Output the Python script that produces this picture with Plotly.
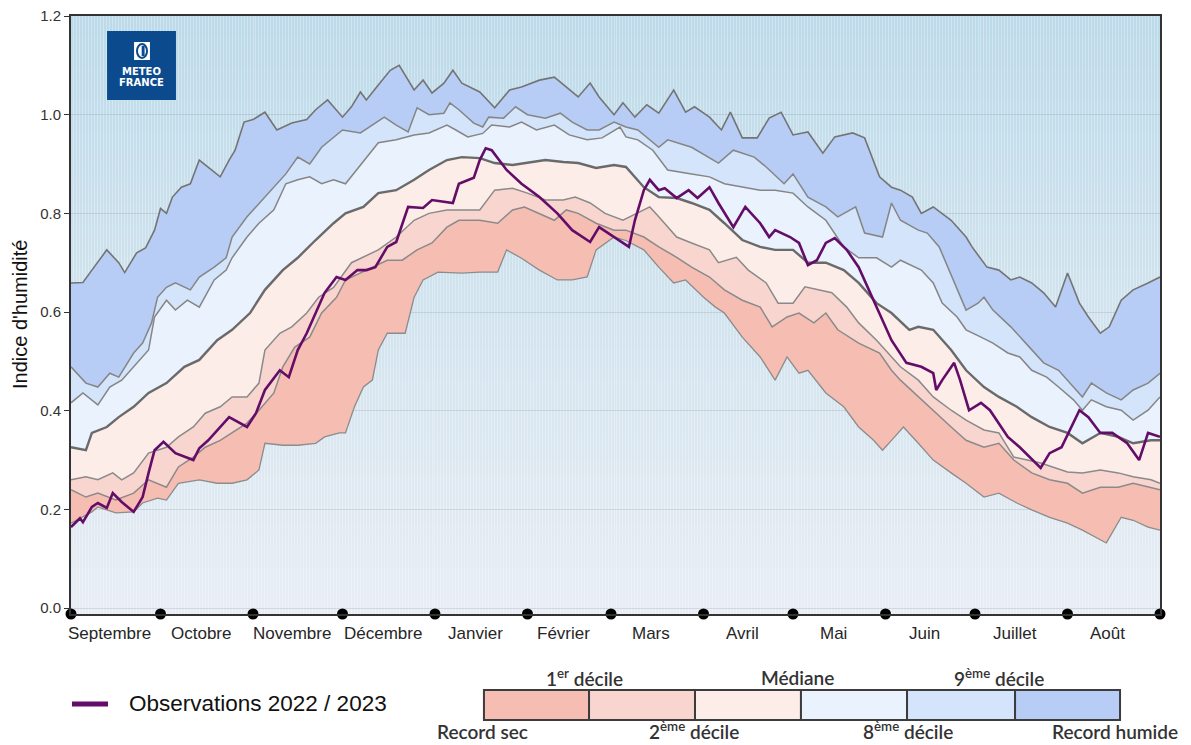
import base64
import struct
import zlib

import plotly.graph_objects as go

# Jour 0 = 1er septembre 2022, jour 365 = 31 août 2023
jours_record_sec = [0, 7, 9, 15, 21, 24, 29, 32, 36, 43, 49, 54, 59, 63, 65, 71, 76, 82, 85, 90,
                    92, 95, 98, 101, 103, 106, 112, 115, 118, 123, 131, 137, 143, 146, 151, 157,
                    163, 168, 173, 176, 182, 186, 192, 197, 202, 206, 212, 216, 219, 225, 231,
                    236, 240, 244, 247, 253, 259, 264, 269, 272, 275, 279, 284, 289, 295, 300,
                    306, 311, 317, 322, 328, 334, 339, 345, 347, 352, 356, 361, 365]
record_sec = [0.172, 0.195, 0.205, 0.193, 0.195, 0.213, 0.223, 0.219, 0.253, 0.26, 0.253, 0.253,
              0.26, 0.28, 0.334, 0.33, 0.33, 0.334, 0.347, 0.355, 0.355, 0.408, 0.448, 0.462,
              0.523, 0.557, 0.557, 0.63, 0.665, 0.681, 0.679, 0.681, 0.681, 0.726, 0.709, 0.685,
              0.665, 0.665, 0.671, 0.726, 0.752, 0.745, 0.726, 0.691, 0.659, 0.665, 0.63, 0.61,
              0.598, 0.549, 0.509, 0.462, 0.509, 0.476, 0.482, 0.436, 0.408, 0.367, 0.34, 0.32,
              0.34, 0.367, 0.334, 0.30, 0.274, 0.253, 0.225, 0.233, 0.213, 0.199, 0.184, 0.172,
              0.158, 0.138, 0.132, 0.184, 0.178, 0.164, 0.158]

jours_decile1 = [0, 5, 9, 15, 21, 26, 32, 36, 41, 45, 50, 54, 59, 63, 68, 71, 75, 80, 84, 89, 92,
                 99, 106, 111, 116, 121, 126, 130, 137, 143, 148, 152, 157, 162, 166, 170, 176,
                 182, 186, 192, 197, 203, 208, 214, 219, 225, 231, 235, 240, 244, 249, 253, 257,
                 264, 271, 275, 278, 284, 289, 295, 300, 306, 311, 316, 322, 328, 334, 339, 345,
                 351, 356, 362, 365]
decile1 = [0.24, 0.225, 0.233, 0.219, 0.233, 0.26, 0.245, 0.286, 0.306, 0.326, 0.34, 0.355, 0.375,
           0.401, 0.436, 0.489, 0.529, 0.549, 0.598, 0.63, 0.665, 0.685, 0.705, 0.705, 0.726,
           0.74, 0.772, 0.786, 0.786, 0.78, 0.807, 0.813, 0.80, 0.786, 0.807, 0.80, 0.78, 0.766,
           0.766, 0.752, 0.732, 0.711, 0.691, 0.671, 0.645, 0.624, 0.61, 0.57, 0.59, 0.598,
           0.578, 0.598, 0.564, 0.537, 0.517, 0.482, 0.462, 0.428, 0.401, 0.367, 0.34, 0.326,
           0.334, 0.30, 0.274, 0.26, 0.253, 0.233, 0.245, 0.245, 0.253, 0.245, 0.24]

jours_decile2 = [0, 5, 9, 14, 17, 21, 26, 32, 36, 41, 45, 50, 54, 59, 63, 65, 70, 74, 79, 83, 88,
                 94, 103, 109, 115, 120, 126, 131, 137, 142, 148, 153, 159, 165, 169, 174, 179,
                 185, 194, 197, 203, 208, 214, 217, 223, 227, 233, 237, 242, 246, 251, 255, 260,
                 264, 270, 275, 278, 284, 289, 295, 300, 306, 311, 316, 320, 325, 329, 334, 339,
                 345, 351, 356, 362, 365]
decile2 = [0.26, 0.266, 0.26, 0.274, 0.26, 0.274, 0.314, 0.326, 0.347, 0.367, 0.395, 0.408, 0.428,
           0.428, 0.456, 0.523, 0.557, 0.57, 0.598, 0.63, 0.65, 0.70, 0.726, 0.752, 0.786, 0.80,
           0.807, 0.807, 0.807, 0.847, 0.851, 0.841, 0.827, 0.827, 0.833, 0.821, 0.80, 0.786,
           0.813, 0.793, 0.752, 0.74, 0.726, 0.70, 0.711, 0.685, 0.659, 0.618, 0.618, 0.651,
           0.645, 0.639, 0.61, 0.578, 0.543, 0.509, 0.489, 0.462, 0.428, 0.401, 0.381, 0.361,
           0.355, 0.306, 0.30, 0.294, 0.286, 0.276, 0.274, 0.28, 0.274, 0.266, 0.26, 0.253]

jours_mediane = [0, 5, 7, 12, 16, 21, 26, 32, 38, 43, 49, 54, 60, 65, 71, 76, 82, 88, 92, 98, 103,
                 109, 115, 120, 126, 131, 137, 142, 148, 153, 159, 165, 170, 176, 182, 186, 192,
                 197, 203, 208, 214, 219, 225, 231, 236, 242, 247, 253, 259, 264, 270, 275, 281,
                 284, 289, 295, 300, 306, 311, 317, 322, 328, 334, 339, 345, 351, 356, 362, 365]
mediane = [0.326, 0.32, 0.355, 0.367, 0.387, 0.408, 0.436, 0.456, 0.489, 0.503, 0.543, 0.564,
           0.598, 0.645, 0.685, 0.71, 0.746, 0.78, 0.80, 0.813, 0.841, 0.847, 0.868, 0.888, 0.908,
           0.914, 0.912, 0.902, 0.898, 0.902, 0.908, 0.904, 0.902, 0.892, 0.898, 0.894, 0.853,
           0.833, 0.831, 0.821, 0.807, 0.78, 0.746, 0.732, 0.726, 0.726, 0.70, 0.70, 0.685, 0.659,
           0.618, 0.598, 0.564, 0.57, 0.564, 0.523, 0.482, 0.448, 0.428, 0.408, 0.387, 0.367,
           0.355, 0.334, 0.355, 0.347, 0.334, 0.34, 0.34]

jours_decile8 = [0, 4, 9, 13, 17, 22, 26, 28, 32, 35, 39, 43, 48, 52, 54, 59, 63, 68, 72, 76, 80,
                 84, 88, 92, 99, 103, 109, 115, 120, 126, 129, 133, 138, 141, 147, 151, 156, 162,
                 167, 173, 178, 184, 186, 190, 195, 200, 208, 214, 219, 225, 231, 236, 242, 247,
                 253, 259, 264, 270, 275, 278, 285, 289, 292, 297, 300, 305, 309, 314, 318, 322,
                 327, 331, 336, 339, 342, 347, 352, 356, 361, 365]
decile8 = [0.416, 0.436, 0.412, 0.448, 0.462, 0.497, 0.523, 0.59, 0.624, 0.604, 0.624, 0.61, 0.665,
           0.685, 0.71, 0.752, 0.78, 0.807, 0.86, 0.868, 0.874, 0.86, 0.868, 0.86, 0.914, 0.943,
           0.949, 0.959, 0.963, 0.979, 0.969, 0.955, 0.962, 0.979, 0.975, 0.985, 0.969, 0.979,
           0.959, 0.949, 0.953, 0.975, 0.955, 0.949, 0.928, 0.888, 0.88, 0.874, 0.86, 0.853,
           0.847, 0.847, 0.841, 0.813, 0.786, 0.732, 0.71, 0.71, 0.691, 0.705, 0.685, 0.659,
           0.618, 0.59, 0.564, 0.549, 0.537, 0.517, 0.509, 0.482, 0.468, 0.448, 0.422, 0.401,
           0.422, 0.408, 0.401, 0.381, 0.401, 0.428]

jours_decile9 = [0, 5, 9, 13, 16, 21, 24, 27, 29, 32, 35, 40, 43, 48, 52, 54, 59, 62, 65, 69, 72,
                 76, 80, 84, 88, 91, 97, 101, 105, 109, 113, 116, 120, 125, 127, 130, 135, 138,
                 140, 145, 149, 153, 159, 164, 168, 173, 177, 182, 186, 190, 197, 200, 208, 217,
                 222, 229, 233, 239, 242, 247, 253, 257, 263, 266, 272, 275, 278, 284, 287, 291,
                 296, 300, 304, 306, 309, 315, 320, 326, 331, 336, 339, 342, 347, 352, 356, 361,
                 365]
decile9 = [0.489, 0.456, 0.448, 0.476, 0.468, 0.517, 0.537, 0.578, 0.63, 0.65, 0.659, 0.645, 0.671,
           0.691, 0.71, 0.752, 0.793, 0.813, 0.833, 0.86, 0.88, 0.914, 0.90, 0.934, 0.955, 0.969,
           0.963, 0.979, 0.995, 0.979, 0.965, 1.014, 1.0, 1.003, 1.024, 1.01, 0.983, 0.975, 0.995,
           0.993, 1.016, 1.0, 0.993, 1.003, 0.985, 0.969, 0.969, 0.985, 0.975, 0.969, 0.934,
           0.949, 0.934, 0.902, 0.928, 0.914, 0.894, 0.86, 0.88, 0.833, 0.813, 0.793, 0.813,
           0.76, 0.752, 0.821, 0.786, 0.766, 0.76, 0.732, 0.659, 0.604, 0.618, 0.63, 0.604, 0.57,
           0.537, 0.497, 0.482, 0.448, 0.428, 0.456, 0.436, 0.422, 0.442, 0.456, 0.476]

jours_record_humide = [0, 4, 7, 12, 16, 18, 22, 25, 28, 30, 32, 34, 37, 40, 43, 46, 50, 53, 55,
                       58, 61, 65, 69, 74, 79, 82, 86, 91, 94, 97, 99, 103, 107, 110, 115, 118,
                       121, 125, 128, 131, 137, 142, 147, 151, 157, 162, 166, 170, 174, 177, 182,
                       185, 189, 193, 197, 202, 206, 209, 214, 218, 221, 225, 230, 234, 238, 242,
                       247, 252, 256, 262, 266, 271, 275, 278, 282, 285, 289, 295, 300, 302, 307,
                       311, 315, 318, 322, 326, 330, 334, 338, 341, 345, 348, 352, 356, 361, 365]
record_humide = [0.659, 0.66, 0.685, 0.726, 0.70, 0.68, 0.72, 0.73, 0.766, 0.81, 0.80, 0.833,
                 0.853, 0.86, 0.908, 0.894, 0.874, 0.908, 0.928, 0.985, 0.99, 1.005, 0.969, 0.983,
                 0.99, 1.01, 1.03, 0.995, 1.016, 1.046, 1.03, 1.06, 1.09, 1.10, 1.05, 1.07, 1.044,
                 1.064, 1.09, 1.064, 1.046, 1.014, 1.05, 1.056, 1.07, 1.076, 1.056, 1.036, 1.064,
                 1.036, 1.0, 1.024, 0.995, 1.02, 1.003, 1.05, 1.005, 1.016, 0.995, 0.969, 1.005,
                 0.953, 0.953, 0.993, 1.005, 0.959, 0.965, 0.922, 0.955, 0.963, 0.953, 0.874, 0.853,
                 0.847, 0.833, 0.80, 0.813, 0.786, 0.752, 0.732, 0.691, 0.685, 0.665, 0.671, 0.659,
                 0.639, 0.61, 0.679, 0.618, 0.59, 0.557, 0.57, 0.624, 0.645, 0.659, 0.671]

jours_obs = [0, 3, 4, 7, 9, 12, 14, 17, 21, 24, 26, 28, 31, 35, 41, 43, 46, 50, 53, 59, 62, 65, 70,
             73, 76, 79, 82, 85, 89, 92, 96, 99, 102, 106, 109, 113, 118, 121, 128, 130, 135, 137,
             139, 141, 146, 151, 157, 163, 168, 174, 177, 182, 187, 189, 192, 194, 197, 199, 203,
             207, 210, 214, 217, 222, 226, 231, 234, 236, 241, 244, 247, 250, 253, 256, 260, 264,
             267, 271, 275, 280, 285, 289, 290, 292, 296, 298, 301, 305, 308, 314, 318, 325, 328,
             332, 338, 341, 345, 349, 354, 358, 361, 365]
observations = [0.164, 0.182, 0.174, 0.205, 0.213, 0.203, 0.233, 0.215, 0.195, 0.225, 0.274, 0.32,
                0.337, 0.314, 0.30, 0.324, 0.34, 0.367, 0.387, 0.367, 0.395, 0.442, 0.482, 0.468,
                0.523, 0.557, 0.598, 0.639, 0.671, 0.665, 0.685, 0.685, 0.691, 0.732, 0.742, 0.813,
                0.811, 0.827, 0.821, 0.86, 0.872, 0.908, 0.932, 0.928, 0.888, 0.86, 0.833, 0.80,
                0.766, 0.742, 0.772, 0.752, 0.732, 0.786, 0.847, 0.868, 0.847, 0.851, 0.831, 0.847,
                0.831, 0.853, 0.821, 0.772, 0.813, 0.78, 0.752, 0.766, 0.752, 0.74, 0.695, 0.705,
                0.74, 0.75, 0.726, 0.691, 0.651, 0.598, 0.543, 0.497, 0.489, 0.476, 0.442, 0.462,
                0.497, 0.462, 0.401, 0.416, 0.401, 0.347, 0.326, 0.284, 0.314, 0.326, 0.401, 0.387,
                0.355, 0.355, 0.334, 0.30, 0.355, 0.347]

mois = ["Septembre", "Octobre", "Novembre", "Décembre", "Janvier", "Février", "Mars", "Avril",
        "Mai", "Juin", "Juillet", "Août"]
bornes_mois = [0, 30, 61, 91, 122, 153, 181, 212, 242, 273, 303, 334, 365]

graduations_y = [0.0, 0.2, 0.4, 0.6, 0.8, 1.0, 1.2]

# Couleurs des classes, du plus sec au plus humide
couleurs_classes = ["#f6bdb2", "#f8d6cf", "#fdede8", "#eaf2fd", "#d4e4fa", "#b7cdf5"]
couleur_obs = "#640d68"

Y_MIN, Y_MAX = -0.012, 1.2


def fond_degrade(haut, bas, hauteur=96, largeur=4):
    """PNG (data URI) d'un dégradé vertical pour le fond de la zone de tracé."""
    lignes = []
    for i in range(hauteur):
        t = i / (hauteur - 1)
        pix = bytes(round(haut[k] + (bas[k] - haut[k]) * t) for k in range(3))
        lignes.append(b"\x00" + pix * largeur)
    brut = b"".join(lignes)

    def bloc(tag, data):
        return (struct.pack(">I", len(data)) + tag + data
                + struct.pack(">I", zlib.crc32(tag + data) & 0xFFFFFFFF))

    png = (b"\x89PNG\r\n\x1a\n"
           + bloc(b"IHDR", struct.pack(">IIBBBBB", largeur, hauteur, 8, 2, 0, 0, 0))
           + bloc(b"IDAT", zlib.compress(brut, 9))
           + bloc(b"IEND", b""))
    return "data:image/png;base64," + base64.b64encode(png).decode()


fig = go.Figure()

series = [
    (jours_record_sec, record_sec, None, "#8c8c8c", 1.3),
    (jours_decile1, decile1, couleurs_classes[0], "#8a8a8a", 1.5),
    (jours_decile2, decile2, couleurs_classes[1], "#8a8a8a", 1.5),
    (jours_mediane, mediane, couleurs_classes[2], "#6a6a6a", 2.4),
    (jours_decile8, decile8, couleurs_classes[3], "#858585", 1.5),
    (jours_decile9, decile9, couleurs_classes[4], "#858585", 1.5),
    (jours_record_humide, record_humide, couleurs_classes[5], "#747474", 1.6),
]
for x, y, remplissage, trait, epaisseur in series:
    fig.add_trace(go.Scatter(
        x=x, y=y, mode="lines",
        line=dict(color=trait, width=epaisseur, shape="linear"),
        fill="tonexty" if remplissage else None,
        fillcolor=remplissage,
        hoverinfo="skip", showlegend=False,
    ))

fig.add_trace(go.Scatter(
    x=jours_obs, y=observations, mode="lines",
    line=dict(color=couleur_obs, width=2.6),
    name="Observations 2022 / 2023", showlegend=False,
))

# Points noirs aux changements de mois
fig.add_trace(go.Scatter(
    x=bornes_mois, y=[Y_MIN] * len(bornes_mois), mode="markers",
    marker=dict(color="black", size=11), cliponaxis=False,
    hoverinfo="skip", showlegend=False,
))

police = "Arial, Liberation Sans, sans-serif"
annotations = []

# Noms des mois centrés entre deux bornes
for i, nom in enumerate(mois):
    milieu = (bornes_mois[i] + bornes_mois[i + 1]) / 2
    annotations.append(dict(
        x=milieu, y=-0.0334, xref="x", yref="paper", xshift=-6,
        text=nom, showarrow=False, xanchor="center", yanchor="middle",
        font=dict(family=police, size=17, color="#262626"),
    ))

annotations.append(dict(
    x=-0.0468, y=0.5, xref="paper", yref="paper", text="Indice d'humidité",
    textangle=-90, showarrow=False, xanchor="center", yanchor="middle",
    font=dict(family=police, size=20, color="#111111"),
))

# Logo
annotations += [
    dict(x=0.0647, y=0.9064, xref="paper", yref="paper", text="<b>METEO</b>",
         showarrow=False, xanchor="center", yanchor="middle",
         font=dict(family="DejaVu Sans, sans-serif", size=10, color="white")),
    dict(x=0.0647, y=0.8880, xref="paper", yref="paper", text="<b>FRANCE</b>",
         showarrow=False, xanchor="center", yanchor="middle",
         font=dict(family="DejaVu Sans, sans-serif", size=10, color="white")),
]

# Légende
annotations.append(dict(
    x=0.0514, y=-0.1505, xref="paper", yref="paper", text="Observations 2022 / 2023",
    showarrow=False, xanchor="left", yanchor="middle",
    font=dict(family=police, size=22.5, color="#111111"),
))
police_leg = "Lato, Open Sans, sans-serif"
# Étiquettes au-dessus des cases (centrées) et en dessous (posées sur le bas de la figure)
etiquettes_haut = [
    ("1<sup>er</sup> décile", 0.4711),
    ("Médiane", 0.6667),
    ("9<sup>ème</sup> décile", 0.8522),
]
etiquettes_bas = [
    ("Record sec", 0.3783),
    ("2<sup>ème</sup> décile", 0.5721),
    ("8<sup>ème</sup> décile", 0.7686),
    ("Record humide", 0.9587),
]
for texte, px in etiquettes_haut:
    annotations.append(dict(
        x=px, y=-0.107, xref="paper", yref="paper", text=texte, showarrow=False,
        xanchor="center", yanchor="middle",
        font=dict(family=police_leg, size=19, color="#333333", weight=600),
    ))
for texte, px in etiquettes_bas:
    annotations.append(dict(
        x=px, y=-0.2185, xref="paper", yref="paper", text=texte, showarrow=False,
        xanchor="center", yanchor="bottom",
        font=dict(family=police_leg, size=19, color="#333333", weight=600),
    ))

shapes = [
    # Logo
    dict(type="rect", xref="paper", yref="paper", x0=0.0331, x1=0.0964, y0=0.8595, y1=0.9749,
         fillcolor="#0b4b8d", line=dict(width=0), layer="above"),
    dict(type="rect", xref="paper", yref="paper", x0=0.0579, x1=0.0725, y0=0.9264, y1=0.9565,
         fillcolor="white", line=dict(width=0), layer="above"),
    dict(type="circle", xref="paper", yref="paper", x0=0.0606, x1=0.0698, y0=0.9298, y1=0.9531,
         fillcolor="white", line=dict(color="#0b4b8d", width=2), layer="above"),
    dict(type="rect", xref="paper", yref="paper", x0=0.0649, x1=0.0676, y0=0.9330, y1=0.9500,
         fillcolor="#0b4b8d", line=dict(width=0), layer="above"),
    # Trait de la légende des observations
    dict(type="line", xref="paper", yref="paper", x0=0.0009, x1=0.034, y0=-0.1505, y1=-0.1505,
         line=dict(color=couleur_obs, width=5)),
]
bords = [0.3792, 0.4757, 0.5730, 0.6703, 0.7677, 0.8669, 0.9633]
for i, couleur in enumerate(couleurs_classes):
    shapes.append(dict(
        type="rect", xref="paper", yref="paper", x0=bords[i], x1=bords[i + 1],
        y0=-0.1773, y1=-0.1271, fillcolor=couleur, line=dict(color="#3c3c3c", width=2),
    ))

fig.update_layout(
    width=1191, height=745,
    margin=dict(l=71, r=31, t=16, b=131, pad=0, autoexpand=False),
    paper_bgcolor="white", plot_bgcolor="#dce8f0",
    images=[dict(
        source=fond_degrade((188, 218, 233), (232, 237, 244)),
        xref="paper", yref="paper", x=0, y=1, sizex=1, sizey=1,
        sizing="stretch", layer="below", xanchor="left", yanchor="top",
    )],
    xaxis=dict(
        range=[0, 365], tickmode="linear", tick0=0, dtick=1,
        showticklabels=False, ticks="", showgrid=True,
        gridcolor="rgba(255,255,255,0.3)", gridwidth=1, zeroline=False,
        showline=True, linecolor="#333333", linewidth=2, mirror=True,
    ),
    yaxis=dict(
        range=[Y_MIN, Y_MAX], tickmode="array", tickvals=graduations_y,
        ticktext=[f"{v:.1f}" for v in graduations_y],
        ticks="outside", ticklen=5, tickcolor="#333333", tickwidth=1,
        tickfont=dict(family=police, size=15, color="#333333"),
        showgrid=True, gridcolor="rgba(110,125,140,0.2)", gridwidth=1, zeroline=False,
        showline=True, linecolor="#333333", linewidth=2, mirror=True,
    ),
    annotations=annotations,
    shapes=shapes,
    showlegend=False,
)

fig.write_html("out.html")
